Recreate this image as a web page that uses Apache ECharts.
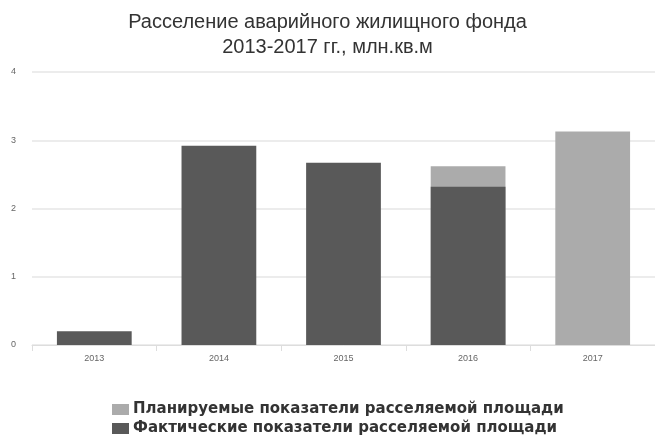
<!DOCTYPE html>
<html><head><meta charset="utf-8">
<script src="https://cdn.jsdelivr.net/npm/echarts@6/dist/echarts.min.js"></script>
<style>html,body{margin:0;padding:0;background:#fff}#c{width:655px;height:438px}</style>
</head><body><div id="c"></div>
<script>
const categories = ['2013','2014','2015','2016','2017'];
const planned = [null, null, null, 2.62, 3.13];
const actual = [0.2, 2.92, 2.67, 2.32, null];
const yTicks = [0, 1, 2, 3, 4];
const seriesNames = ['Планируемые показатели расселяемой площади', 'Фактические показатели расселяемой площади'];

const legendBase = {
  left: 107, itemWidth: 17, itemHeight: 11, icon: 'rect', itemGap: 0,
  textStyle: {fontFamily: 'DejaVu Sans', fontSize: 15, fontWeight: 'bold', color: '#333', padding: [0, 0, 0, -1]}
};

const chart = echarts.init(document.getElementById('c'));
chart.setOption({
  animation: false,
  backgroundColor: '#fff',
  title: {
    text: 'Расселение аварийного жилищного фонда\n2013-2017 гг., млн.кв.м',
    left: 'center', top: 5,
    textStyle: {fontFamily: 'Liberation Sans', fontSize: 20, fontWeight: 'normal', color: '#333', lineHeight: 25}
  },
  legend: [
    Object.assign({}, legendBase, {top: 397, data: [seriesNames[0]]}),
    Object.assign({}, legendBase, {top: 416, data: [seriesNames[1]]})
  ],
  grid: {left: 32, right: 0, top: 72, bottom: 93},
  xAxis: {
    type: 'category', data: categories,
    axisLine: {lineStyle: {color: '#ddd'}},
    axisTick: {show: true, lineStyle: {color: '#ddd'}, length: 6},
    axisLabel: {fontFamily: 'Liberation Sans', fontSize: 9, color: '#666', margin: 9}
  },
  yAxis: {
    type: 'value', min: yTicks[0], max: yTicks[yTicks.length-1], interval: 1,
    axisLine: {show: false}, axisTick: {show: false},
    splitLine: {lineStyle: {color: '#e6e6e6', width: 1.5}},
    axisLabel: {fontFamily: 'Liberation Sans', fontSize: 9, color: '#666', margin: 16}
  },
  series: [
    {name: seriesNames[0], type: 'bar', data: planned, barWidth: '60%', barGap: '-100%',
     itemStyle: {color: '#ababab'}},
    {name: seriesNames[1], type: 'bar', data: actual, barWidth: '60%',
     itemStyle: {color: '#595959'}}
  ]
});
</script></body></html>
